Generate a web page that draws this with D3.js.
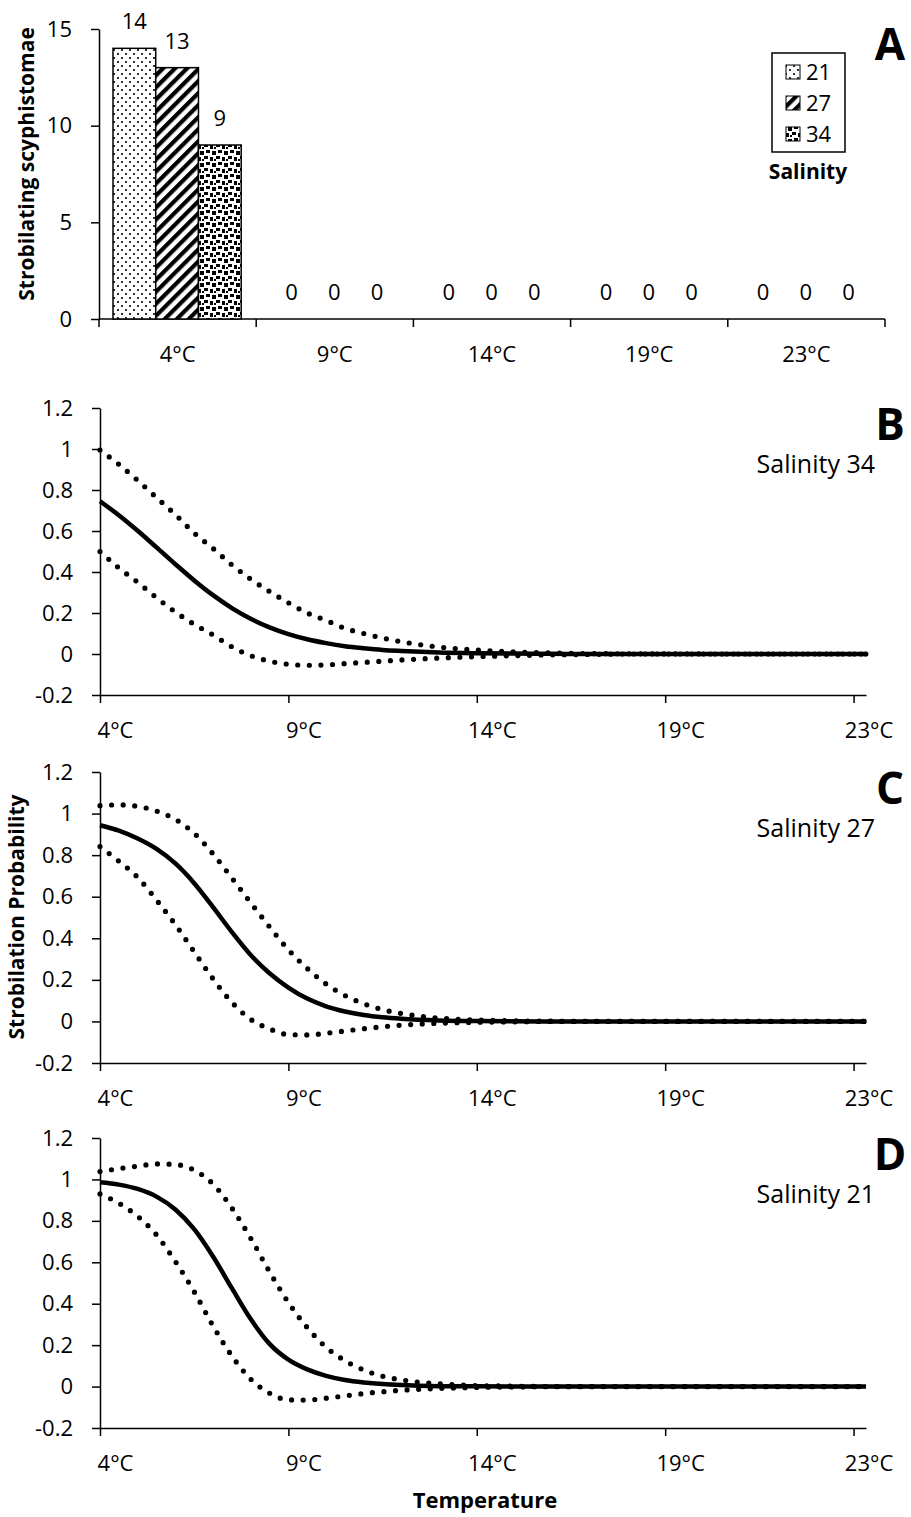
<!DOCTYPE html>
<html>
<head>
<meta charset="utf-8">
<script src="https://cdn.jsdelivr.net/npm/d3@7"></script>
<style>
  body { margin: 0; background: #fff; }
  svg { display: block; }
  text { font-family: "Open Sans", "Liberation Sans", sans-serif; fill: #000; }
</style>
</head>
<body>
<svg id="fig" width="911" height="1517"></svg>
<script>
// ---------- Panel A: counts of strobilating scyphistomae ----------
const categories = ["4°C", "9°C", "14°C", "19°C", "23°C"];
const salinities = ["21", "27", "34"];
const counts21 = [14, 0, 0, 0, 0];
const counts27 = [13, 0, 0, 0, 0];
const counts34 = [9, 0, 0, 0, 0];
const countTicks = [0, 5, 10, 15];

// ---------- Panels B–D: modelled strobilation probability ----------
const probTicks = [-0.2, 0, 0.2, 0.4, 0.6, 0.8, 1, 1.2];
const tempTickPos = [0, 5, 10, 15, 20];
const tempTickLabels = ["4°C", "9°C", "14°C", "19°C", "23°C"];
// sample positions along the temperature axis (axis units, 0 = 4°C tick)
const curvePos = [0, 0.5, 1, 1.5, 2, 2.5, 3, 3.5, 4, 4.5, 5, 5.5, 6, 6.5, 7, 7.5, 8,
                  9, 10, 11, 12, 13, 14, 17, 20.33];

const fit34 = [0.745, 0.677, 0.601, 0.52, 0.438, 0.359, 0.287, 0.224, 0.172, 0.13, 0.097, 0.072, 0.053, 0.038, 0.028, 0.02, 0.015,
               0.0076, 0.004, 0.002, 0.001, 0, 0, 0, 0];
const upper34 = [0.995, 0.925, 0.847, 0.763, 0.68, 0.59, 0.515, 0.435, 0.365, 0.305, 0.25, 0.2, 0.164, 0.125, 0.1, 0.078, 0.06,
                 0.034, 0.019, 0.01, 0.005, 0.002, 0.001, 0, 0];
const lower34 = [0.5, 0.42, 0.35, 0.275, 0.205, 0.145, 0.093, 0.035, -0.008, -0.035, -0.05, -0.055, -0.053, -0.047, -0.041, -0.035, -0.029,
                 -0.02, -0.013, -0.008, -0.004, -0.002, 0, 0, 0];

const fit27 = [0.944, 0.918, 0.88, 0.83, 0.76, 0.665, 0.55, 0.43, 0.32, 0.232, 0.163, 0.11, 0.073, 0.048, 0.031, 0.02, 0.013,
               0.005, 0.002, 0.001, 0, 0, 0, 0, 0];
const upper27 = [1.038, 1.042, 1.035, 1.012, 0.972, 0.905, 0.806, 0.69, 0.571, 0.455, 0.345, 0.255, 0.18, 0.125, 0.085, 0.057, 0.038,
                 0.016, 0.007, 0.003, 0.001, 0, 0, 0, 0];
const lower27 = [0.841, 0.771, 0.693, 0.584, 0.466, 0.335, 0.205, 0.092, 0.01, -0.036, -0.063, -0.065, -0.057, -0.046, -0.035, -0.026, -0.018,
                 -0.009, -0.004, -0.002, 0, 0, 0, 0, 0];

const fit21 = [0.986, 0.975, 0.954, 0.917, 0.855, 0.76, 0.628, 0.475, 0.326, 0.206, 0.13, 0.083, 0.052, 0.032, 0.02, 0.012, 0.007,
               0.002, 0.001, 0, 0, 0, 0, 0, 0];
const upper21 = [1.038, 1.052, 1.064, 1.075, 1.072, 1.045, 0.978, 0.862, 0.716, 0.554, 0.406, 0.285, 0.19, 0.125, 0.08, 0.05, 0.032,
                 0.013, 0.005, 0.002, 0, 0, 0, 0, 0];
const lower21 = [0.93, 0.885, 0.822, 0.732, 0.604, 0.458, 0.293, 0.148, 0.036, -0.032, -0.064, -0.065, -0.056, -0.045, -0.034, -0.025, -0.018,
                 -0.009, -0.004, -0.002, 0, 0, 0, 0, 0];

// ---------- drawing ----------
const svg = d3.select("#fig");
const defs = svg.append("defs");

// fill patterns for the three salinity treatments
const p21 = defs.append("pattern").attr("id", "pat21").attr("patternUnits", "userSpaceOnUse")
  .attr("width", 8).attr("height", 8);
p21.append("rect").attr("width", 8).attr("height", 8).attr("fill", "#fff");
p21.append("rect").attr("x", 1).attr("y", 1).attr("width", 2).attr("height", 2).attr("fill", "#333");
p21.append("rect").attr("x", 5).attr("y", 5).attr("width", 2).attr("height", 2).attr("fill", "#333");

const p27 = defs.append("pattern").attr("id", "pat27").attr("patternUnits", "userSpaceOnUse")
  .attr("width", 8.5).attr("height", 8.5).attr("patternTransform", "rotate(45)");
p27.append("rect").attr("width", 8.5).attr("height", 8.5).attr("fill", "#fff");
p27.append("rect").attr("width", 4.2).attr("height", 8.5).attr("fill", "#000");

const p34 = defs.append("pattern").attr("id", "pat34").attr("patternUnits", "userSpaceOnUse")
  .attr("width", 12).attr("height", 12);
p34.append("rect").attr("width", 12).attr("height", 12).attr("fill", "#fff");
[[0, 0, 4, 3], [6, 1, 3, 4], [2, 6, 4, 3], [8, 7, 4, 4], [10, 3, 2, 2]].forEach(s => {
  p34.append("rect").attr("x", s[0]).attr("y", s[1]).attr("width", s[2]).attr("height", s[3]).attr("fill", "#000");
});
const fills = { "21": "url(#pat21)", "27": "url(#pat27)", "34": "url(#pat34)" };

function styleAxis(g) {
  g.select(".domain").attr("stroke", "#000").attr("stroke-width", 1.5);
  g.selectAll(".tick line").attr("stroke", "#000").attr("stroke-width", 1.5);
  g.selectAll(".tick text").attr("font-size", 22).attr("font-family", null).attr("fill", "#000");
}

// ---- Panel A ----
const A = { left: 99, right: 885, top: 29, bottom: 319 };
const xA = d3.scaleBand().domain(categories).range([A.left, A.right]);
const xSal = d3.scaleBand().domain(salinities).range([14, xA.bandwidth() - 15]);
const yA = d3.scaleLinear().domain([0, 15]).range([A.bottom, A.top]);
const countsBySal = { "21": counts21, "27": counts27, "34": counts34 };

const gA = svg.append("g");
gA.append("g").attr("transform", `translate(${A.left},0)`)
  .call(d3.axisLeft(yA).tickValues(countTicks).tickSize(8).tickSizeOuter(0).tickPadding(19))
  .call(styleAxis);

// category axis with boundary ticks
const xEdges = categories.map(c => xA(c)).concat([A.right]);
const xAxisA = gA.append("g").attr("transform", `translate(0,${A.bottom})`);
xAxisA.append("line").attr("x1", A.left).attr("x2", A.right).attr("stroke", "#000").attr("stroke-width", 1.5);
xAxisA.selectAll("line.edge").data(xEdges).join("line").attr("class", "edge")
  .attr("x1", d => d).attr("x2", d => d).attr("y1", 0).attr("y2", 8)
  .attr("stroke", "#000").attr("stroke-width", 1.5);
xAxisA.selectAll("text").data(categories).join("text")
  .attr("x", d => xA(d) + xA.bandwidth() / 2).attr("y", 43)
  .attr("text-anchor", "middle").attr("font-size", 22).text(d => d);

// bars and value labels
salinities.forEach(s => {
  const vals = countsBySal[s];
  gA.selectAll(null).data(categories).join("rect")
    .attr("x", (c) => xA(c) + xSal(s))
    .attr("width", xSal.bandwidth())
    .attr("y", (c, i) => yA(vals[i]))
    .attr("height", (c, i) => yA(0) - yA(vals[i]))
    .attr("fill", fills[s])
    .attr("stroke", "#000").attr("stroke-width", 1.5)
    .attr("display", (c, i) => vals[i] > 0 ? null : "none");
  gA.selectAll(null).data(categories).join("text")
    .attr("x", c => xA(c) + xSal(s) + xSal.bandwidth() / 2)
    .attr("y", (c, i) => yA(vals[i]) - 19)
    .attr("text-anchor", "middle").attr("font-size", 22)
    .text((c, i) => vals[i]);
});

// legend
const leg = gA.append("g");
leg.append("rect").attr("x", 772).attr("y", 53).attr("width", 73).attr("height", 99)
  .attr("fill", "none").attr("stroke", "#000").attr("stroke-width", 1.5);
salinities.forEach((s, i) => {
  const cy = 72 + i * 31;
  leg.append("rect").attr("x", 786).attr("y", cy - 7).attr("width", 14).attr("height", 14)
    .attr("fill", fills[s]).attr("stroke", "#000").attr("stroke-width", 1);
  leg.append("text").attr("x", 806).attr("y", cy + 8).attr("font-size", 22).text(s);
});
leg.append("text").attr("x", 808).attr("y", 179).attr("text-anchor", "middle")
  .attr("font-size", 21).attr("font-weight", "bold").text("Salinity");
gA.append("text").attr("x", 890).attr("y", 60).attr("text-anchor", "middle")
  .attr("font-size", 44).attr("font-weight", "bold").text("A");
gA.append("text").attr("transform", "translate(34,164) rotate(-90)").attr("text-anchor", "middle")
  .attr("font-size", 21).attr("font-weight", "bold").text("Strobilating scyphistomae");

// ---- Panels B–D ----
const xP = d3.scaleLinear().domain([0, 20.33]).range([100, 866]);
const panels = [
  { letter: "B", label: "Salinity 34", top: 408, bottom: 695, fit: fit34, upper: upper34, lower: lower34 },
  { letter: "C", label: "Salinity 27", top: 772, bottom: 1063, fit: fit27, upper: upper27, lower: lower27 },
  { letter: "D", label: "Salinity 21", top: 1138, bottom: 1428, fit: fit21, upper: upper21, lower: lower21 }
];

panels.forEach(p => {
  const y = d3.scaleLinear().domain([-0.2, 1.2]).range([p.bottom, p.top]);
  const g = svg.append("g");
  g.append("g").attr("transform", `translate(${xP(0)},0)`)
    .call(d3.axisLeft(y).tickValues(probTicks).tickSize(8).tickSizeOuter(0).tickPadding(19)
      .tickFormat(d => String(+d.toFixed(1))))
    .call(styleAxis);
  const gx = g.append("g").attr("transform", `translate(0,${p.bottom})`)
    .call(d3.axisBottom(xP).tickValues(tempTickPos).tickSize(8).tickSizeOuter(0).tickPadding(19)
      .tickFormat((d, i) => tempTickLabels[i]))
    .call(styleAxis);
  gx.selectAll(".tick text").attr("dx", 15);

  const line = d3.line().x((d, i) => xP(curvePos[i])).y(d => y(d)).curve(d3.curveMonotoneX);
  g.append("path").attr("d", line(p.fit)).attr("fill", "none")
    .attr("stroke", "#000").attr("stroke-width", 4.5).attr("stroke-linejoin", "round");
  [p.upper, p.lower].forEach(series => {
    g.append("path").attr("d", line(series)).attr("fill", "none")
      .attr("stroke", "#000").attr("stroke-width", 5.2)
      .attr("stroke-linecap", "round").attr("stroke-dasharray", "0 11.6");
  });

  g.append("text").attr("x", 890).attr("y", p.top + 32).attr("text-anchor", "middle")
    .attr("font-size", 44).attr("font-weight", "bold").text(p.letter);
  g.append("text").attr("x", 875).attr("y", p.top + 65).attr("text-anchor", "end")
    .attr("font-size", 25).text(p.label);
});

svg.append("text").attr("transform", "translate(24,917) rotate(-90)").attr("text-anchor", "middle")
  .attr("font-size", 21).attr("font-weight", "bold").text("Strobilation Probability");
svg.append("text").attr("x", 485).attr("y", 1508).attr("text-anchor", "middle")
  .attr("font-size", 22).attr("font-weight", "bold").text("Temperature");
</script>
</body>
</html>
